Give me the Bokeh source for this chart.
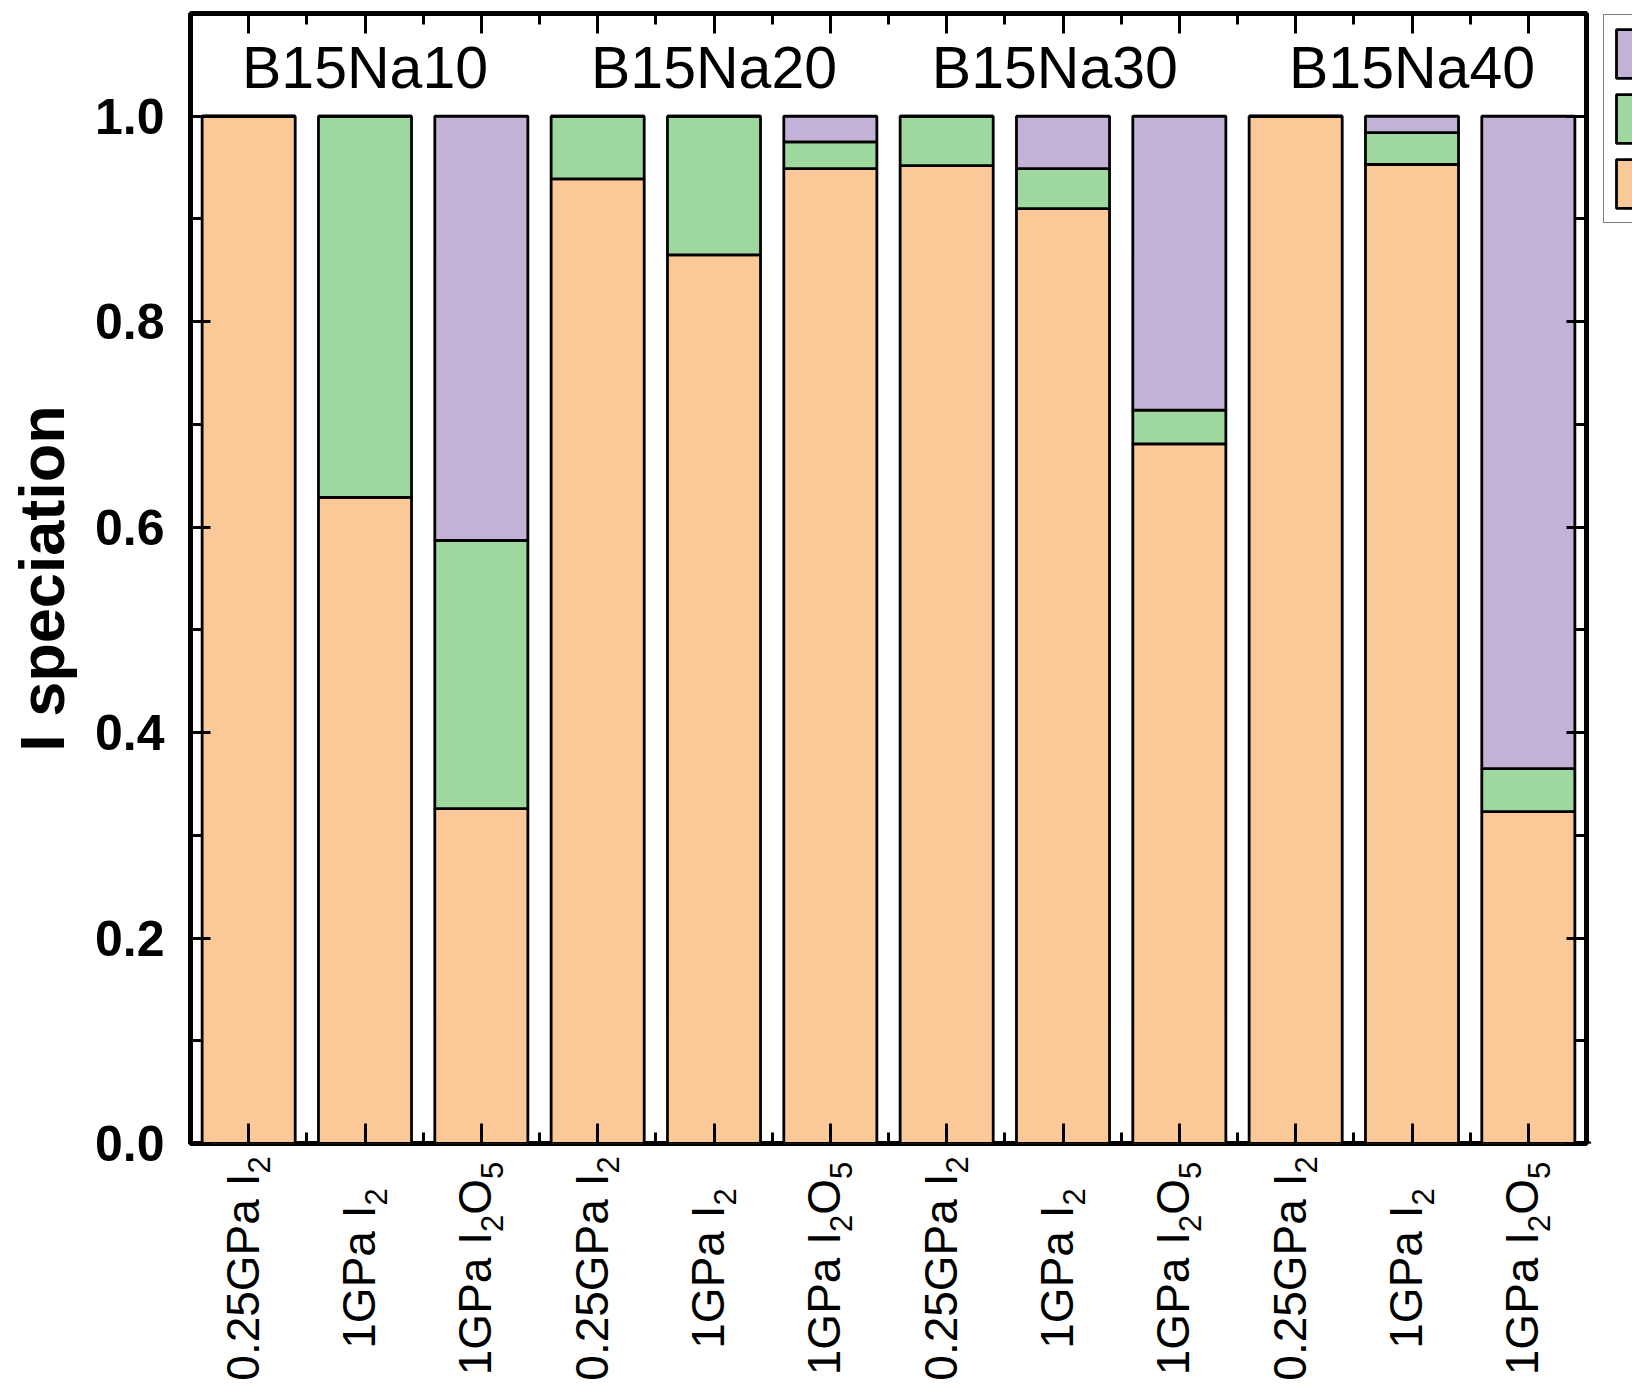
import math

from bokeh.core.properties import value
from bokeh.embed import file_html
from bokeh.layouts import column, row
from bokeh.models import (ColumnDataSource, FixedTicker, Legend, LegendItem,
                          LinearAxis, PrintfTickFormatter, Range1d)
from bokeh.plotting import figure
from bokeh.resources import INLINE

# ---------------------------------------------------------------- data
groups = ["B15Na10", "B15Na20", "B15Na30", "B15Na40"]
group_x = [2, 5, 7.93, 11]
pressures = ["0.25GPa", "1GPa", "1GPa"] * 4
sources = ["I2", "I2", "I2O5"] * 4

frac_orange = [1.000, 0.629, 0.326, 0.939, 0.865, 0.949, 0.952, 0.910, 0.681, 1.000, 0.953, 0.323]
frac_green = [0.000, 0.371, 0.261, 0.061, 0.135, 0.026, 0.048, 0.039, 0.033, 0.000, 0.031, 0.042]
frac_purple = [0.000, 0.000, 0.413, 0.000, 0.000, 0.025, 0.000, 0.051, 0.286, 0.000, 0.016, 0.635]

y_ticks = [0.0, 0.2, 0.4, 0.6, 0.8, 1.0]
y_minor = [0.1, 0.3, 0.5, 0.7, 0.9]

ORANGE, GREEN, PURPLE = "#FBC898", "#9FD89F", "#C3B2D7"
FONT = "Liberation Sans"

# ---------------------------------------------------------------- layout
# page = [y-label strip | chart | legend strip] over [ . | category labels | . ]
W, H = 1632, 1394
LEFT_W = 186                            # strip holding the y tick labels and title
MAIN_W, MAIN_H = 1403, 1146             # chart panel
LEG_W = W - LEFT_W - MAIN_W
LAB_H = H - MAIN_H
B_LEFT, B_RIGHT, B_TOP, B_BOTTOM = 4, 3, 13, 3
FRAME_H = MAIN_H - B_TOP - B_BOTTOM
FRAME_LEFT = LEFT_W + B_LEFT            # page x of the frame's left edge
X_START, X_END = 0.5, 12.5
Y_START, Y_END = 0.0, 1.1
PX_Y = FRAME_H / (Y_END - Y_START)
EM_SHIFT = 0.35                         # baseline offset of the svg text, in em


def data_y(sy):
    return Y_END - (sy - B_TOP) / PX_Y


def blank_figure(**kw):
    f = figure(output_backend="svg", toolbar_location=None, title=None,
               background_fill_color="white", border_fill_color="white", **kw)
    f.grid.visible = False
    f.outline_line_color = None
    return f


n = len(frac_orange)
xs = list(range(1, n + 1))

p = figure(width=MAIN_W, height=MAIN_H, x_range=(X_START, X_END), y_range=(Y_START, Y_END),
           output_backend="svg", toolbar_location=None, title=None,
           min_border_left=B_LEFT, min_border_right=B_RIGHT,
           min_border_top=B_TOP, min_border_bottom=B_BOTTOM,
           background_fill_color="white", border_fill_color="white")
p.grid.visible = False
p.outline_line_color = "black"
p.outline_line_width = 5

src = ColumnDataSource(dict(x=xs, orange=frac_orange, green=frac_green, purple=frac_purple))
bars = p.vbar_stack(["orange", "green", "purple"], x="x", width=0.8, source=src,
                    fill_color=[ORANGE, GREEN, PURPLE], line_color="black", line_width=2.8)

x_ticker = FixedTicker(ticks=xs, minor_ticks=[i + 0.5 for i in range(0, n + 1)])
y_ticker = FixedTicker(ticks=y_ticks, minor_ticks=y_minor)


def style_axis(ax, ticks=True):
    ax.axis_line_color = None
    ax.major_tick_in = 20 if ticks else 0
    ax.major_tick_out = 0
    ax.minor_tick_in = 11 if ticks else 0
    ax.minor_tick_out = 0
    ax.major_tick_line_width = 3
    ax.minor_tick_line_width = 3
    ax.major_tick_line_color = "black" if ticks else None
    ax.minor_tick_line_color = "black" if ticks else None
    ax.major_label_text_color = None
    ax.major_label_text_font_size = "0px"
    ax.major_label_standoff = 0


p.xaxis[0].ticker = x_ticker
style_axis(p.xaxis[0])
p.yaxis[0].ticker = y_ticker
style_axis(p.yaxis[0])

top_axis = LinearAxis(ticker=x_ticker)
style_axis(top_axis)
p.add_layout(top_axis, "above")

right_axis = LinearAxis(ticker=y_ticker)
style_axis(right_axis)
p.add_layout(right_axis, "right")

# group names inside the frame
GROUP_PX = 59
p.text(x=group_x, y=[data_y(88 - EM_SHIFT * GROUP_PX)] * len(groups), text=groups,
       text_font=value(FONT), text_font_size=f"{GROUP_PX}px", text_color="black",
       text_align="center", text_baseline="alphabetic")

# ---------------------------------------------------------------- y labels strip
left_fig = blank_figure(width=LEFT_W, height=H, x_range=(0, 1), y_range=p.y_range,
                        x_axis_location=None, y_axis_location="left",
                        min_border_left=LEFT_W - 1, min_border_right=0,
                        min_border_top=B_TOP, min_border_bottom=H - B_TOP - FRAME_H)
ya = left_fig.yaxis[0]
ya.ticker = y_ticker
ya.formatter = PrintfTickFormatter(format="%.1f")
ya.axis_line_color = None
ya.major_tick_line_color = None
ya.minor_tick_line_color = None
ya.major_tick_in = ya.major_tick_out = ya.minor_tick_in = ya.minor_tick_out = 0
ya.major_label_text_font = FONT
ya.major_label_text_font_style = "bold"
ya.major_label_text_font_size = "50px"
ya.major_label_text_color = "black"
ya.major_label_standoff = 26 - (FRAME_LEFT - (LEFT_W - 1))
ya.axis_label = "I speciation"
ya.axis_label_text_font = FONT
ya.axis_label_text_font_style = "bold"
ya.axis_label_text_font_size = "63px"
ya.axis_label_text_color = "black"
ya.axis_label_standoff = 15

# ---------------------------------------------------------------- legend strip
leg_fig = blank_figure(width=LEG_W, height=MAIN_H, x_range=(0, LEG_W), y_range=(0, MAIN_H),
                       x_axis_location=None, y_axis_location=None,
                       min_border_left=0, min_border_right=0, min_border_top=0,
                       min_border_bottom=0)
swatches = [leg_fig.vbar(x=[-10 * LEG_W], top=[1], width=1, fill_color=c, line_color="black",
                         line_width=2.8) for c in (PURPLE, GREEN, ORANGE)]
# area swatches are inset by 10% of the glyph box on every side
LEG_PAD, LEG_GLYPH_W, LEG_GLYPH_H, LEG_SPACING = 8, 40, 61, 4
leg_left, leg_top = 14, 19
leg_h = 2 * LEG_PAD + 3 * LEG_GLYPH_H + 2 * LEG_SPACING
legend = Legend(items=[LegendItem(label="", renderers=[r], index=0) for r in swatches],
                location=(leg_left, MAIN_H - leg_top - leg_h),
                padding=LEG_PAD, spacing=LEG_SPACING, glyph_width=LEG_GLYPH_W,
                glyph_height=LEG_GLYPH_H, label_standoff=8, label_text_color=None,
                label_height=20,
                border_line_color="black", border_line_width=1.5,
                background_fill_color="white", background_fill_alpha=1.0, margin=0)
leg_fig.add_layout(legend)

# ---------------------------------------------------------------- category labels
lab_fig = blank_figure(width=MAIN_W, height=LAB_H, x_range=p.x_range, y_range=Range1d(LAB_H, 0),
                       x_axis_location=None, y_axis_location=None,
                       min_border_left=B_LEFT, min_border_right=B_RIGHT,
                       min_border_top=0, min_border_bottom=0)

ADV = {"0": .556, "1": .556, "2": .556, "5": .556, ".": .278, "G": .778,
       "P": .667, "a": .556, " ": .278, "I": .278, "O": .778}
MAIN_PX, SUB_PX = 46, 31
MAIN_SHIFT, SUB_SHIFT = 10, 21.5
LABEL_CENTER = 1268 - MAIN_H


def formula_pieces(formula):
    pieces = []
    for ch in formula:
        kind = "sub" if ch.isdigit() else "main"
        if pieces and pieces[-1][1] == kind:
            pieces[-1] = (pieces[-1][0] + ch, kind)
        else:
            pieces.append((ch, kind))
    return pieces


rows = {"main": dict(x=[], y=[], text=[]), "sub": dict(x=[], y=[], text=[])}
for xi, pres, form in zip(xs, pressures, sources):
    pieces = formula_pieces(form)
    pieces[0] = (pres + " " + pieces[0][0], "main")
    widths = [sum(ADV[c] for c in t) * (MAIN_PX if k == "main" else SUB_PX) for t, k in pieces]
    pos = LABEL_CENTER + sum(widths) / 2
    for (t, k), w in zip(pieces, widths):
        rows[k]["x"].append(xi)
        rows[k]["y"].append(pos)
        rows[k]["text"].append(t)
        pos -= w

for kind, size, shift in (("main", MAIN_PX, MAIN_SHIFT), ("sub", SUB_PX, SUB_SHIFT)):
    lab_fig.text(x="x", y="y", text="text", source=ColumnDataSource(rows[kind]),
                 angle=math.pi / 2, x_offset=shift - EM_SHIFT * size,
                 text_font=value(FONT), text_font_size=f"{size}px", text_color="black",
                 text_align="left", text_baseline="alphabetic")

layout = row(left_fig,
             column(row(p, leg_fig, spacing=0), lab_fig, spacing=0),
             spacing=0)
open("out.html", "w").write(file_html(layout, INLINE))
